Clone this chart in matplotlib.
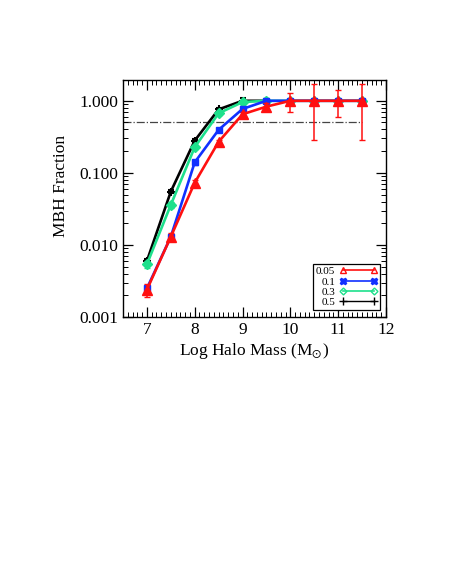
import numpy as np
import matplotlib
matplotlib.use("Agg")
import matplotlib.pyplot as plt
from matplotlib.ticker import MultipleLocator, LogLocator, NullFormatter, FixedLocator, FixedFormatter

plt.rcParams['font.family'] = ['Liberation Serif', 'DejaVu Serif']
plt.rcParams['mathtext.fontset'] = 'stix'

# halo mass bins (log M_sun)
mass = [7.0, 7.5, 8.0, 8.5, 9.0, 9.5, 10.0, 10.5, 11.0, 11.5]

# MBH occupation fraction for each threshold
frac_005 = [0.0024, 0.013, 0.073, 0.27, 0.65, 0.83, 1.0, 1.0, 1.0, 1.0]
lo_005 = [0.0005, 0.0015, 0.006, 0.02, 0.05, 0.10, 0.29, 0.71, 0.41, 0.71]
hi_005 = [0.0005, 0.0015, 0.006, 0.02, 0.05, 0.10, 0.28, 0.72, 0.39, 0.72]

frac_01 = [0.0025, 0.013, 0.14, 0.395, 0.77, 1.0, 1.0, 1.0, 1.0, 1.0]
err_01 = [0.0003, 0.001, 0.01, 0.02, 0.04, 0.04, 0.0, 0.0, 0.0, 0.0]

frac_03 = [0.0054, 0.036, 0.227, 0.67, 0.96, 1.0, 1.0, 1.0, 1.0, 1.0]
err_03 = [0.0006, 0.003, 0.015, 0.03, 0.06, 0.08, 0.0, 0.0, 0.0, 0.0]

frac_05 = [0.006, 0.055, 0.28, 0.76, 1.0, 1.0, 1.0, 1.0, 1.0, 1.0]
err_05 = [0.0005, 0.003, 0.012, 0.03, 0.08, 0.0, 0.0, 0.0, 0.0, 0.0]

fig = plt.figure(figsize=(4.51, 5.83), dpi=100)
ax = fig.add_axes([0.2727, 0.456, 0.583, 0.407])

ax.plot([6.5, 11.5], [0.5, 0.5], color='#444444', ls='-.', lw=0.9, zorder=1)

ax.errorbar(mass[:6], frac_05[:6], yerr=err_05[:6], color='black', marker='+', ms=6,
            mew=1.5, lw=1.9, capsize=2, elinewidth=1, label='0.5', zorder=2)
ax.errorbar(mass, frac_03, yerr=err_03, color='#1ee08c', marker='D', ms=5,
            lw=1.9, capsize=2, elinewidth=1, label='0.3', zorder=3)
ax.errorbar(mass, frac_01, yerr=err_01, color='#1030ff', marker='s', ms=5,
            lw=1.9, capsize=2, elinewidth=1, label='0.1', zorder=4)
ax.errorbar(mass, frac_005, yerr=[lo_005, hi_005], color='#ff1010', marker='^', ms=6.5,
            lw=1.9, capsize=2, elinewidth=1.1, label='0.05', zorder=5)

ax.set_yscale('log')
ax.set_xlim(6.5, 12)
ax.set_ylim(0.001, 1.95)
ax.xaxis.set_major_locator(MultipleLocator(1))
ax.xaxis.set_minor_locator(MultipleLocator(0.1))
ax.yaxis.set_major_locator(FixedLocator([0.001, 0.01, 0.1, 1.0]))
ax.yaxis.set_major_formatter(FixedFormatter(['0.001', '0.010', '0.100', '1.000']))
ax.yaxis.set_minor_locator(LogLocator(base=10, subs=np.arange(2, 10)))
ax.yaxis.set_minor_formatter(NullFormatter())
ax.tick_params(which='both', direction='in', top=True, right=True, labelsize=12.5)
ax.tick_params(which='major', length=7, width=0.9)
ax.tick_params(which='minor', length=3.5, width=0.7)
for s in ax.spines.values():
    s.set_linewidth(1.0)

ax.set_xlabel(r'Log Halo Mass (M$_{\odot}$)', fontsize=12.5, labelpad=2)
ax.set_ylabel('MBH Fraction', fontsize=12.5)
ax.yaxis.set_label_coords(-0.205, 0.553)

# legend with custom handles: open markers at line ends
h1, = ax.plot([], [], color='#ff1010', marker='^', mfc='none', ms=5, lw=1.2)
h2, = ax.plot([], [], color='#1030ff', marker='X', ms=4.5, lw=1.2)
h3, = ax.plot([], [], color='#1ee08c', marker='D', mfc='none', ms=3.5, lw=1.2)
h4, = ax.plot([], [], color='black', marker='+', ms=6, lw=1.0)
leg = ax.legend([h1, h2, h3, h4], ['0.05', '0.1', '0.3', '0.5'], loc='lower right',
                bbox_to_anchor=(0.978, 0.03), markerfirst=False, numpoints=2, fontsize=8,
                handlelength=3.4, handletextpad=0.4, labelspacing=0.05, borderpad=0.25,
                borderaxespad=0, frameon=True, fancybox=False, edgecolor='black',
                framealpha=1)
leg.get_frame().set_linewidth(0.9)

fig.savefig('out.png', dpi=100)
